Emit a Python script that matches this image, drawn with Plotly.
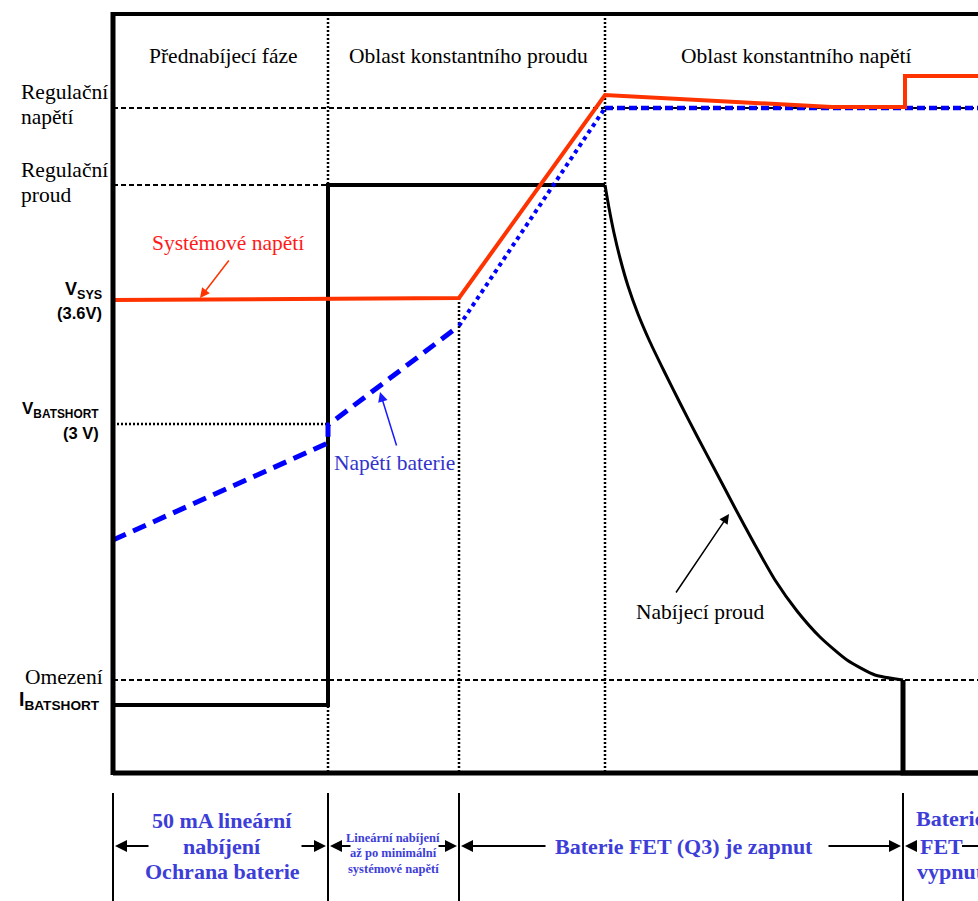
import plotly.graph_objects as go

# ---------------- data (time axis / level axis, diagram units) ----------------
# phase boundaries on the time axis
phase_t = [113, 328, 459, 605, 903]
frame_left, frame_right, frame_top, frame_bottom = 113, 978, 14, 773

# reference levels (level axis, downward-growing diagram units)
lvl_reg_v = 108      # Regulační napětí
lvl_reg_i = 185      # Regulační proud
lvl_vsys = 300       # VSYS (3.6V)
lvl_vbatshort = 424  # VBATSHORT (3 V)
lvl_ibatshort = 680  # Omezení IBATSHORT

# system voltage (red)
sys_t = [113, 459, 605, 832, 905, 905, 978]
sys_v = [300, 298, 95, 107, 107, 76, 76]

# battery voltage (blue) - three styled parts
bat1_t = [113, 328, 328, 459]
bat1_v = [540, 443, 425, 326]
bat2_t = [459, 605]
bat2_v = [326, 108]
bat3_t = [605, 978]
bat3_v = [108, 108]

# charging current (black)
cur_t = [113, 328, 328, 605]
cur_v = [705, 705, 185, 185]
curve_t = [605, 609, 614, 620, 628, 638, 650, 664, 680, 697, 715, 735, 755, 775, 797, 820, 847, 875, 903]
curve_v = [185, 208, 233, 258, 286, 314, 342, 371, 403, 436, 470, 508, 545, 580, 611, 637, 660, 675, 680]
tail_t = [903, 903, 978]
tail_v = [680, 773, 773]

# text labels
phase_titles = ["Přednabíjecí fáze", "Oblast konstantního proudu", "Oblast konstantního napětí"]
phase_title_t = [223, 468, 796]

BLUE_TXT = "#3d3dd8"
RED = "#ff3300"
SERIF = "Liberation Serif, Times New Roman, serif"
SANS = "Liberation Sans, Arial, sans-serif"

fig = go.Figure()

def line(x, y, color="black", width=2, dash="solid", shape="linear", smoothing=None):
    ln = dict(color=color, width=width, dash=dash, shape=shape)
    if smoothing is not None:
        ln["smoothing"] = smoothing
    fig.add_trace(go.Scatter(x=x, y=y, mode="lines", hoverinfo="skip", showlegend=False, line=ln))

# reference dashed/dotted lines
line([frame_left, frame_right], [lvl_reg_v, lvl_reg_v], width=2, dash="5px,3px")
line([frame_left, phase_t[1]], [lvl_reg_i, lvl_reg_i], width=2, dash="5px,3px")
line([frame_left, phase_t[1]], [lvl_vbatshort, lvl_vbatshort], width=2.5, dash="2px,2px")
line([frame_left, frame_right], [lvl_ibatshort, lvl_ibatshort], width=2, dash="5px,3px")

# vertical phase separators (dotted)
line([phase_t[1], phase_t[1]], [frame_top, frame_bottom], width=2.5, dash="2px,2px")
line([phase_t[2], phase_t[2]], [sys_v[1], frame_bottom], width=2.5, dash="2px,2px")
line([phase_t[3], phase_t[3]], [frame_top, frame_bottom], width=2.5, dash="2px,2px")

# curves
line(cur_t, cur_v, width=4)
line(curve_t, curve_v, width=3, shape="spline", smoothing=0.6)
line(tail_t, tail_v, width=5)
line(bat1_t, bat1_v, color="#0000ff", width=5, dash="14px,8px")
line(bat2_t, bat2_v, color="#0000ff", width=4, dash="4px,4px")
line(bat3_t, bat3_v, color="#0000ff", width=4.5, dash="8px,4px")
line(sys_t, sys_v, color=RED, width=4)

# frame
line([frame_left, frame_left], [frame_top - 2, frame_bottom + 2], width=5)
line([frame_left, frame_right], [frame_top, frame_top], width=4)
line([frame_left, frame_right], [frame_bottom, frame_bottom], width=5)

# bottom-region separators
for t in [113, 328, 459, 903]:
    line([t, t], [793, 901], width=2)

ann = []
def text(x, y, s, size=21.5, color="black", family=SERIF, xanchor="center"):
    ann.append(dict(x=x, y=y, xref="x", yref="y", text=s, showarrow=False,
                    xanchor=xanchor, yanchor="middle",
                    font=dict(family=family, size=size, color=color)))

def arrow(x0, y0, x1, y1, color="black", width=2, size=1.0, head=2):
    ann.append(dict(x=x1, y=y1, ax=x0, ay=y0, xref="x", yref="y", axref="x", ayref="y",
                    text="", showarrow=True, arrowhead=head, arrowsize=size,
                    arrowwidth=width, arrowcolor=color, standoff=0, startstandoff=0))

for s, t in zip(phase_titles, phase_title_t):
    text(t, 56, s)

# left axis labels
text(19, 92, "Regulační", xanchor="left")
text(19, 117, "napětí", xanchor="left")
text(19, 170, "Regulační", xanchor="left")
text(19, 195, "proud", xanchor="left")
text(104, 290, "<b>V<sub>SYS</sub></b>", size=18, family=SANS, xanchor="right")
text(104, 313, "<b>(3.6V)</b>", size=16.5, family=SANS, xanchor="right")
text(101, 410, "<b>V<sub>BATSHORT</sub></b>", size=17, family=SANS, xanchor="right")
text(101, 433, "<b>(3 V)</b>", size=16.5, family=SANS, xanchor="right")
text(105, 677, "Omezení", xanchor="right")
text(102, 700, "<b>I<sub>BATSHORT</sub></b>", size=19.5, family=SANS, xanchor="right")

# curve labels
text(228, 243, "Systémové napětí", color="#ff1a1a")
arrow(230, 259, 200, 298, color=RED, width=1.5, size=1.3)
text(394, 463, "Napětí baterie", color="#3333cc")
arrow(397, 447, 380, 392, color="#1a1aff", width=1.5, size=1.3)
text(700, 612, "Nabíjecí proud")
arrow(675, 594, 729, 514, width=1.5, size=1.3)

# bottom phase descriptions
text(222, 820, "<b>50 mA lineární</b>", size=22, color=BLUE_TXT)
text(222, 846, "<b>nabíjení</b>", size=22, color=BLUE_TXT)
text(222, 871, "<b>Ochrana baterie</b>", size=22, color=BLUE_TXT)
text(393, 838, "<b>Lineární nabíjení</b>", size=12.5, color=BLUE_TXT)
text(393, 853, "<b>až po minimální</b>", size=12.5, color=BLUE_TXT)
text(393, 869, "<b>systémové napětí</b>", size=12.5, color=BLUE_TXT)
text(684, 846, "<b>Baterie FET (Q3) je zapnut</b>", size=22, color=BLUE_TXT)
text(950, 818, "<b>Baterie</b>", size=22, color=BLUE_TXT)
text(941, 846, "<b>FET</b>", size=22, color=BLUE_TXT)
text(950, 871, "<b>vypnut</b>", size=22, color=BLUE_TXT)

# bottom span arrows
arrow(150, 846, 115, 846, size=1.2)
arrow(300, 846, 326, 846, size=1.2)
arrow(352, 846, 330, 846, size=1.2)
arrow(437, 846, 457, 846, size=1.2)
arrow(547, 846, 461, 846, size=1.2)
arrow(827, 846, 901, 846, size=1.2)
arrow(918, 846, 905, 846, size=1.2)
line([962, 978], [846, 846], width=2)

fig.update_layout(
    width=978, height=901,
    margin=dict(l=0, r=0, t=0, b=0),
    paper_bgcolor="white", plot_bgcolor="white",
    xaxis=dict(range=[0, 978], visible=False, fixedrange=True),
    yaxis=dict(range=[901, 0], visible=False, fixedrange=True),
    annotations=ann,
    showlegend=False,
)

fig.write_html("out.html", config={"displayModeBar": False},
               post_script="document.body.style.margin='0';")
